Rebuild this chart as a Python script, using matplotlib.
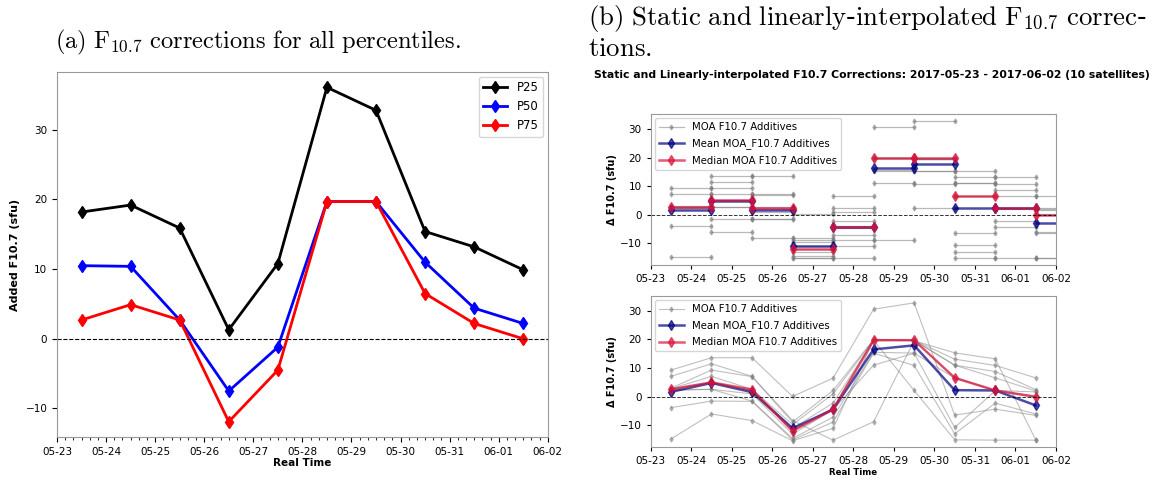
import numpy as np
import matplotlib
matplotlib.use("Agg")
import matplotlib.pyplot as plt
import matplotlib.dates as mdates

plt.rcParams['mathtext.fontset'] = 'cm'

# daily epochs (centre of each day)
days = np.array(['2017-05-23T12', '2017-05-24T12', '2017-05-25T12', '2017-05-26T12',
                 '2017-05-27T12', '2017-05-28T12', '2017-05-29T12', '2017-05-30T12',
                 '2017-05-31T12', '2017-06-01T12'], dtype='datetime64[h]')

# (a) percentile corrections
p25 = [18.2, 19.2, 15.9, 1.3, 10.8, 36.1, 32.8, 15.4, 13.2, 9.9]
p50 = [10.5, 10.4, 2.7, -7.5, -1.2, 19.7, 19.7, 11.0, 4.4, 2.2]
p75 = [2.7, 4.9, 2.7, -11.9, -4.5, 19.7, 19.7, 6.5, 2.2, 0.0]

# (b) per-satellite additives
sat_vals = [
    [9.3, 13.6, 13.6, 0.1, 6.5, 30.5, 32.7, -6.4, -4.3, -6.5],
    [7.1, 11.5, 7.1, -8.3, -15.1, -8.7, 19.5, 15.3, 13.2, -15.0],
    [3.0, 9.3, 7.0, -8.8, 2.2, 20.0, 19.7, 13.1, 10.9, 6.6],
    [2.8, 7.1, 2.6, -9.7, 1.0, 19.8, 19.7, 11.0, 8.8, 2.5],
    [2.7, 5.0, 2.4, -11.0, -2.2, 19.7, 19.6, 11.0, 6.6, 2.0],
    [2.6, 5.0, 2.0, -12.0, -4.0, 19.7, 19.6, 6.7, 2.2, 1.7],
    [2.5, 2.6, 1.0, -13.0, -4.5, 11.0, 15.2, 6.5, 2.2, 0.2],
    [2.2, 2.6, -1.5, -14.5, -7.1, 15.5, 15.2, -10.7, 2.1, -0.2],
    [-3.8, -1.5, -1.6, -15.0, -8.8, 15.2, 10.9, -12.9, -2.2, -6.0],
    [-14.7, -6.0, -8.3, -15.3, -11.0, 19.7, 2.2, -15.0, -15.1, -15.1],
]
mean_vals = [1.7, 4.8, 1.6, -11.0, -4.4, 16.5, 17.9, 2.3, 2.2, -3.0]
median_vals = [2.6, 5.0, 2.5, -11.9, -4.4, 19.7, 19.7, 6.6, 2.2, 0.0]

xmin = np.datetime64('2017-05-23')
xmax = np.datetime64('2017-06-02')
one_day = np.timedelta64(24, 'h')

fig = plt.figure(figsize=(11.63, 4.83), dpi=100)

# ---------- (a) ----------
ax = fig.add_axes([0.049, 0.0952, 0.422, 0.7557])
ax.plot(days, p25, color='black', marker='d', ms=6, lw=2, label='P25')
ax.plot(days, p50, color='blue', marker='d', ms=6, lw=2, label='P50')
ax.plot(days, p75, color='red', marker='d', ms=6, lw=2, label='P75')
ax.axhline(0, color='black', ls='--', lw=0.8)
ax.set_xlim(xmin, xmax)
ax.set_ylim(-14.1, 38.3)
ax.xaxis.set_major_locator(mdates.DayLocator())
ax.xaxis.set_minor_locator(mdates.HourLocator(byhour=[4, 8, 12, 16, 20]))
ax.xaxis.set_major_formatter(mdates.DateFormatter('%m-%d'))
ax.tick_params(labelsize=7.5)
ax.set_xlabel('Real Time', fontsize=7.5, fontweight='bold', labelpad=1)
ax.set_ylabel('Added F10.7 (sfu)', fontsize=8, fontweight='bold')
ax.legend(loc='upper right', fontsize=8.5, borderaxespad=0.4)
for s in ax.spines.values():
    s.set_color('#999999')

fig.text(0.047, 0.913, r'$\mathrm{(a)\ F_{10.7}\ corrections\ for\ all\ percentiles.}$',
         fontsize=17.6, ha='left', va='center')

# ---------- (b) ----------
fig.text(0.506, 0.962, r'$\mathrm{(b)\ Static\ and\ linearly}$-$\mathrm{interpolated\ F_{10.7}\ correc}$-',
         fontsize=19.3, ha='left', va='center')
fig.text(0.506, 0.898, r'$\mathrm{tions.}$', fontsize=19.3, ha='left', va='center')
fig.text(0.75, 0.845,
         'Static and Linearly-interpolated F10.7 Corrections: 2017-05-23 - 2017-06-02 (10 satellites)',
         fontsize=7.8, fontweight='bold', ha='center', va='center')

ax_top = fig.add_axes([0.5595, 0.4513, 0.3485, 0.312])
ax_bot = fig.add_axes([0.5595, 0.0739, 0.3485, 0.3133])

# static (step) version
for k, vals in enumerate(sat_vals):
    for i in range(len(days)):
        ax_top.plot([days[i], days[i] + one_day], [vals[i], vals[i]], color='gray',
                    alpha=0.55, lw=0.9, marker='d', ms=2.5,
                    label='MOA F10.7 Additives' if (k == 0 and i == 0) else None)
for i in range(len(days)):
    ax_top.plot([days[i], days[i] + one_day], [mean_vals[i], mean_vals[i]], color='navy',
                alpha=0.7, lw=1.8, marker='d', ms=5,
                label='Mean MOA_F10.7 Additives' if i == 0 else None)
for i in range(len(days)):
    ax_top.plot([days[i], days[i] + one_day], [median_vals[i], median_vals[i]], color='crimson',
                alpha=0.7, lw=1.8, marker='d', ms=5,
                label='Median MOA F10.7 Additives' if i == 0 else None)

# linearly interpolated version
for k, vals in enumerate(sat_vals):
    ax_bot.plot(days, vals, color='gray', alpha=0.5, lw=0.8, marker='d', ms=2.5,
                label='MOA F10.7 Additives' if k == 0 else None)
ax_bot.plot(days, mean_vals, color='navy', alpha=0.7, lw=1.8, marker='d', ms=5,
            label='Mean MOA_F10.7 Additives')
ax_bot.plot(days, median_vals, color='crimson', alpha=0.7, lw=1.8, marker='d', ms=5,
            label='Median MOA F10.7 Additives')

for a in (ax_top, ax_bot):
    a.axhline(0, color='black', ls='--', lw=0.7, alpha=0.8)
    a.set_xlim(xmin, xmax)
    a.set_ylim(-17.6, 35.1)
    a.set_yticks([-10, 0, 10, 20, 30])
    a.xaxis.set_major_locator(mdates.DayLocator())
    a.xaxis.set_major_formatter(mdates.DateFormatter('%m-%d'))
    a.tick_params(labelsize=7.5, length=3)
    a.set_ylabel('Δ F10.7 (sfu)', fontsize=7, fontweight='bold', labelpad=2)
    a.legend(loc='upper left', fontsize=7.3, handlelength=2.5, borderaxespad=0.4,
             labelspacing=0.6)
    for s in a.spines.values():
        s.set_color('#999999')
ax_bot.set_xlabel('Real Time', fontsize=6.2, fontweight='bold', labelpad=1)

fig.savefig('out.png', dpi=100)
